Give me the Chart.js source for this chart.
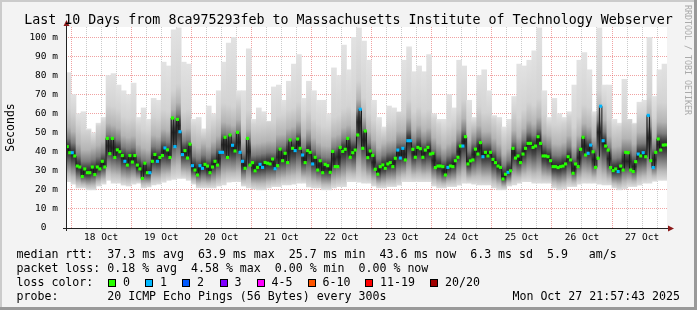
<!DOCTYPE html>
<html>
<head>
<meta charset="utf-8">
<title>smokeping - last 10 days</title>
<script src="https://cdn.jsdelivr.net/npm/chart.js@4.4.1/dist/chart.umd.min.js"></script>
<style>
body { margin: 0; background: #f3f3f3; }
#graph { position: relative; width: 697px; height: 310px; overflow: hidden; }
#graph canvas { position: absolute; left: 0; top: 0; }
.txt { position: absolute; font-family: 'DejaVu Sans Mono', monospace; font-size: 11.6px; line-height: 11.6px; white-space: pre; color: #000; }
.box { position: absolute; top: 279px; width: 6px; height: 6px; border: 1px solid #000; }
</style>
</head>
<body>
<div id="graph">
<canvas id="chart" width="697" height="310"></canvas>
<div class="txt" style="left:0;width:697px;text-align:center;top:12.7px;font-size:13.3px;line-height:13.3px">Last 10 Days from 8ca975293feb to Massachusetts Institute of Technology Webserver</div>
<div class="txt" style="left:683px;top:5px;font-size:8.3px;line-height:9px;writing-mode:vertical-rl;color:#aaa">RRDTOOL / TOBI OETIKER</div>

<div class="txt" style="left:16.5px;top:248.5px">median rtt:  37.3 ms avg  63.9 ms max  25.7 ms min  43.6 ms now  6.3 ms sd  5.9   am/s</div>
<div class="txt" style="left:16.5px;top:262.7px">packet loss: 0.18 % avg  4.58 % max  0.00 % min  0.00 % now</div>
<div class="txt" style="left:16.5px;top:276.9px">loss color:</div>
<div id="lossLegend"></div>
<div class="txt" style="left:16.5px;top:291.1px">probe:       20 ICMP Echo Pings (56 Bytes) every 300s</div>
<div class="txt" style="right:17px;top:291.1px">Mon Oct 27 21:57:43 2025</div>
</div>

<script>
// hours relative to Oct 18 00:00 (graph runs Oct 17 21:57:43 -> Oct 27 21:57:43)
const startHour = -2.038;
const endHour = 237.962;

const dayLabels = ['18 Oct', '19 Oct', '20 Oct', '21 Oct', '22 Oct', '23 Oct', '24 Oct', '25 Oct', '26 Oct', '27 Oct'];

// median rtt in ms, one value per hour
const medianRtt = [
    42.7, 39.5, 39.5, 37.8, 32.5, 32, 27, 31, 29, 29,
    32, 28, 32, 31, 35, 32, 47, 39, 47, 37,
    41, 40, 38, 35, 33, 38, 34.6, 38, 33, 31,
    26, 34, 29, 29, 35, 38.6, 35, 37, 38, 42,
    41, 37, 57.7, 42.7, 57, 50.5, 38.5, 40.6, 36.7, 44,
    32.7, 30.4, 27.8, 32.7, 31.3, 33.4, 32.5, 29, 32, 35,
    33, 39.7, 39.7, 47.6, 37, 48.8, 43.4, 40.4, 50.2, 39.7,
    35, 31.3, 47, 33, 34.3, 30, 31.8, 33.4, 31.8, 34.4,
    34, 33.6, 36.2, 31.1, 32.7, 41.4, 35.3, 39.2, 34.3, 46.2,
    41.8, 40.6, 46.7, 41.8, 38.3, 34.3, 40.6, 39.7, 33.6, 37.1,
    30.4, 35.3, 29, 33.4, 32.7, 29.2, 40.2, 32.2, 32.2, 42.3,
    40.2, 41.3, 47, 37.1, 39.5, 40.9, 48.8, 62.3, 41.8, 50.9,
    36.9, 40.4, 38.1, 30.8, 28.2, 32.2, 33.1, 31.3, 33.6, 34.3,
    32.2, 36.6, 40.9, 36.7, 41.8, 35.7, 45.8, 45.8, 41.3, 37.1,
    42.3, 41.6, 37.1, 40.9, 42.3, 38.8, 39.2, 31.7, 32.5, 32.5,
    32.2, 27.8, 31.8, 32.5, 32.2, 35.3, 37.1, 43, 43, 47.9,
    33.6, 35.2, 35.7, 41.4, 38.8, 44.8, 37.4, 39.7, 37.8, 39.7,
    36, 34.3, 32.5, 31.8, 25.7, 28.2, 29.2, 30, 41.8, 36.7,
    37.8, 34.3, 38.8, 41.8, 44.4, 44.4, 42.3, 43, 47.9, 44.4,
    37.8, 37.8, 37.4, 35.3, 32.2, 32.2, 31.7, 32.2, 32.5, 33.6,
    37.4, 35.7, 28.7, 33.6, 32.2, 41.3, 47.6, 38.3, 39.2, 43.5,
    40, 31.8, 36.6, 63.9, 45.8, 43, 40.9, 31.7, 30.1, 31,
    29.6, 32.5, 30.4, 39.7, 39.5, 30.4, 29.6, 34.8, 38.8, 37.8,
    39.5, 37.4, 59.1, 35.3, 31.7, 39.7, 46.7, 40.9, 43.5, 43.6
];

// hours (index into medianRtt) where 1 of 20 pings was lost
const lossOne = [2, 23, 33, 36, 39, 43, 45, 46, 50, 53, 54, 61, 62, 66, 69, 70, 77, 78, 83, 91,
    94, 98, 117, 132, 133, 134, 136, 137, 152, 158, 166, 176, 208, 209, 213, 214, 220, 228, 230, 232, 234];

// smoke: slowest and fastest ping per 2 hours, ms
const smokeMax = [
    81.5, 70, 60, 61, 52, 50, 55, 58, 80, 81,
    75, 72, 70, 76, 58, 63, 57, 68, 67, 87,
    85, 104, 105, 87, 86, 57, 58, 52, 64, 60,
    72, 87, 97, 100, 72, 72, 94, 57, 63, 61,
    56, 74, 75, 67, 77, 86, 91, 68, 77, 72,
    67, 67, 60, 84, 80, 96, 83, 100, 105, 98,
    88, 67, 58, 53, 64, 63, 61, 88, 95, 82,
    85, 82, 91, 60, 57, 57, 70, 63, 88, 85,
    67, 58, 80, 83, 72, 59, 58, 53, 57, 69,
    86, 85, 88, 93, 105, 72, 58, 68, 60, 58,
    61, 75, 88, 92, 83, 61, 105, 75, 75, 57,
    55, 78, 57, 55, 66, 67, 100, 69, 83, 86
];
const smokeMin = [
    24.3, 23, 21, 21, 20, 20, 22, 23, 25, 23.5,
    23.5, 22.5, 22, 23, 23.5, 21, 21.5, 22.6, 23, 24,
    25, 25.5, 26, 26, 25, 23, 21, 21, 21, 21,
    22, 22.6, 24, 24.3, 24.3, 22, 21, 20.5, 20, 20,
    21, 21.7, 21.7, 22.6, 22.6, 23, 23.5, 23.5, 21.5, 21,
    21, 20, 20, 21, 21.7, 21.7, 24.3, 24.3, 24, 23.5,
    23.5, 22, 21, 21, 21.7, 21.7, 22.5, 24.3, 24.3, 24.3,
    24.3, 24.3, 24.3, 22, 21, 21, 21.7, 21.7, 22.5, 23.5,
    23.5, 23, 22.6, 22.6, 22.6, 21, 20, 20, 22, 22.6,
    23.5, 24.3, 24.3, 23.5, 23.5, 23.5, 23.5, 21, 20, 20.5,
    21.7, 21.7, 23, 23.5, 23.5, 23.5, 23, 22.6, 22.6, 21,
    20, 20.5, 21.7, 21.7, 22.5, 23.5, 23.5, 24.5, 25, 25
];

const lossLabels = ['0', '1', '2', '3', '4-5', '6-10', '11-19', '20/20'];
const lossColors = ['#26ff00', '#00b8ff', '#0059ff', '#7e00ff', '#ff00ff', '#ff5500', '#ff0000', '#a10000'];

const MONO = "'DejaVu Sans Mono'";

// loss colour legend line
const boxX = [108, 145, 182, 219.5, 256.5, 307.5, 365, 430];
const legendEl = document.getElementById('lossLegend');
lossLabels.forEach(function (lbl, i) {
    var b = document.createElement('div');
    b.className = 'box';
    b.style.left = boxX[i] + 'px';
    b.style.background = lossColors[i];
    legendEl.appendChild(b);
    var t = document.createElement('div');
    t.className = 'txt';
    t.style.left = (boxX[i] + 15) + 'px';
    t.style.top = '276.9px';
    t.textContent = lbl;
    legendEl.appendChild(t);
});

const medianPoints = medianRtt.map((v, i) => ({ x: startHour + i + 0.5, y: v }));
const smokeBars = smokeMax.map((hi, k) => ({ x: startHour + 2 * k + 1, y: [smokeMin[k], hi] }));

// grey smoke, darkest around the median
function smokeFill(c) {
    const chart = c.chart;
    const ys = chart.scales.y;
    const k = c.dataIndex;
    if (!ys || k == null || smokeMax[k] == null) return '#cccccc';
    const hi = smokeMax[k], lo = smokeMin[k];
    const mid = (medianRtt[2 * k] + medianRtt[2 * k + 1]) / 2;
    const top = ys.getPixelForValue(hi), bot = ys.getPixelForValue(lo);
    const span = bot - top;
    if (!isFinite(top) || !isFinite(bot) || !(span > 0)) return '#cccccc';
    const g = chart.ctx.createLinearGradient(0, top, 0, bot);
    const add = (v, col) => {
        if (v < lo || v > hi) return;
        g.addColorStop((ys.getPixelForValue(v) - top) / span, col);
    };
    add(hi, '#e2e2e2');
    add(mid + 22, '#d3d3d3');
    add(mid + 12, '#b4b4b4');
    add(mid + 6, '#7e7e7e');
    add(mid + 2.5, '#424242');
    add(mid, '#262626');
    add(lo + (mid - lo) * 0.8, '#474747');
    add(lo + (mid - lo) * 0.55, '#7e7e7e');
    add(lo + (mid - lo) * 0.25, '#bababa');
    add(lo, '#dddddd');
    return g;
}

const rrdFrame = {
    id: 'rrdFrame',
    beforeDraw(chart) {
        const { ctx, width, height, chartArea: a } = chart;
        ctx.save();
        ctx.fillStyle = '#f3f3f3';
        ctx.fillRect(0, 0, width, height);
        ctx.fillStyle = '#ffffff';
        ctx.fillRect(a.left, a.top, a.right - a.left, a.bottom - a.top);
        ctx.fillStyle = '#cbcbcb';
        ctx.fillRect(0, 0, width, 2);
        ctx.fillRect(0, 0, 2, height);
        ctx.fillStyle = '#999999';
        ctx.fillRect(0, height - 3, width, 3);
        ctx.fillRect(width - 3, 0, 3, height);
        ctx.restore();
    },
    afterDraw(chart) {
        const { ctx, chartArea: a } = chart;
        const x0 = a.left + 0.5, y0 = a.bottom + 0.5;
        ctx.save();
        ctx.strokeStyle = '#222222';
        ctx.lineWidth = 1;
        ctx.beginPath();
        ctx.moveTo(a.left - 3, y0);
        ctx.lineTo(a.right + 2, y0);
        ctx.moveTo(x0, a.bottom + 3);
        ctx.lineTo(x0, a.top - 2);
        ctx.stroke();
        ctx.fillStyle = '#8b1a1a';
        ctx.beginPath();
        ctx.moveTo(x0 - 3, a.top - 1);
        ctx.lineTo(x0 + 3, a.top - 1);
        ctx.lineTo(x0, a.top - 7);
        ctx.closePath();
        ctx.fill();
        ctx.beginPath();
        ctx.moveTo(a.right + 1, y0 - 3);
        ctx.lineTo(a.right + 1, y0 + 3);
        ctx.lineTo(a.right + 7, y0);
        ctx.closePath();
        ctx.fill();
        ctx.restore();
    }
};

const majorGrid = 'rgba(225, 70, 70, 0.5)';
const minorGrid = 'rgba(140, 140, 140, 0.45)';

new Chart(document.getElementById('chart'), {
    type: 'bar',
    data: {
        datasets: [
            {
                type: 'line',
                label: 'median rtt',
                data: medianPoints,
                borderColor: '#1a1a1a',
                borderWidth: 1,
                stepped: 'middle',
                pointStyle: 'rect',
                pointRadius: 2.2,
                pointBorderWidth: 0,
                pointBackgroundColor: c => lossOne.includes(c.dataIndex) ? lossColors[1] : lossColors[0],
                order: 0
            },
            {
                type: 'bar',
                label: 'smoke',
                data: smokeBars,
                backgroundColor: smokeFill,
                borderWidth: 0,
                barPercentage: 1,
                categoryPercentage: 1,
                order: 1
            }
        ]
    },
    options: {
        responsive: false,
        animation: false,
        events: [],
        layout: { padding: { left: 0, top: 27, right: 30, bottom: 0 } },
        plugins: {
            legend: { display: false },
            tooltip: { enabled: false }
        },
        scales: {
            x: {
                type: 'linear',
                min: startHour,
                max: endHour,
                offset: false,
                z: 1,
                afterBuildTicks: s => {
                    const t = [];
                    for (let h = 0; h < endHour; h += 6) t.push({ value: h });
                    s.ticks = t;
                },
                afterFit: s => { s.height = 82; },
                ticks: {
                    autoSkip: false,
                    maxRotation: 0,
                    padding: 4,
                    color: '#000',
                    font: { family: MONO, size: 9.5 },
                    callback: v => (v % 24 === 12) ? dayLabels[(v - 12) / 24] : ''
                },
                grid: {
                    drawTicks: false,
                    offset: false,
                    color: c => (c.tick && c.tick.value % 24 === 0) ? majorGrid : minorGrid
                },
                border: { display: false, dash: [1, 1] }
            },
            y: {
                min: 0,
                max: 105.45,
                z: 1,
                afterBuildTicks: s => {
                    const t = [];
                    for (let v = 0; v <= 105; v += 5) t.push({ value: v });
                    s.ticks = t;
                },
                afterFit: s => { s.width = 66; },
                ticks: {
                    padding: 8,
                    color: '#000',
                    font: { family: MONO, size: 9.5 },
                    callback: v => v === 0 ? '0  ' : (v % 10 === 0 ? v + ' m' : '')
                },
                grid: {
                    drawTicks: false,
                    color: c => {
                        const v = c.tick ? c.tick.value : 0;
                        if (v === 0) return 'rgba(0,0,0,0)';
                        return v % 10 === 0 ? majorGrid : minorGrid;
                    }
                },
                border: { display: false, dash: [1, 1] },
                title: {
                    display: true,
                    text: 'Seconds',
                    color: '#000',
                    font: { family: MONO, size: 11.5 },
                    padding: { top: 4, bottom: 0 }
                }
            }
        }
    },
    plugins: [rrdFrame]
});
</script>
</body>
</html>
